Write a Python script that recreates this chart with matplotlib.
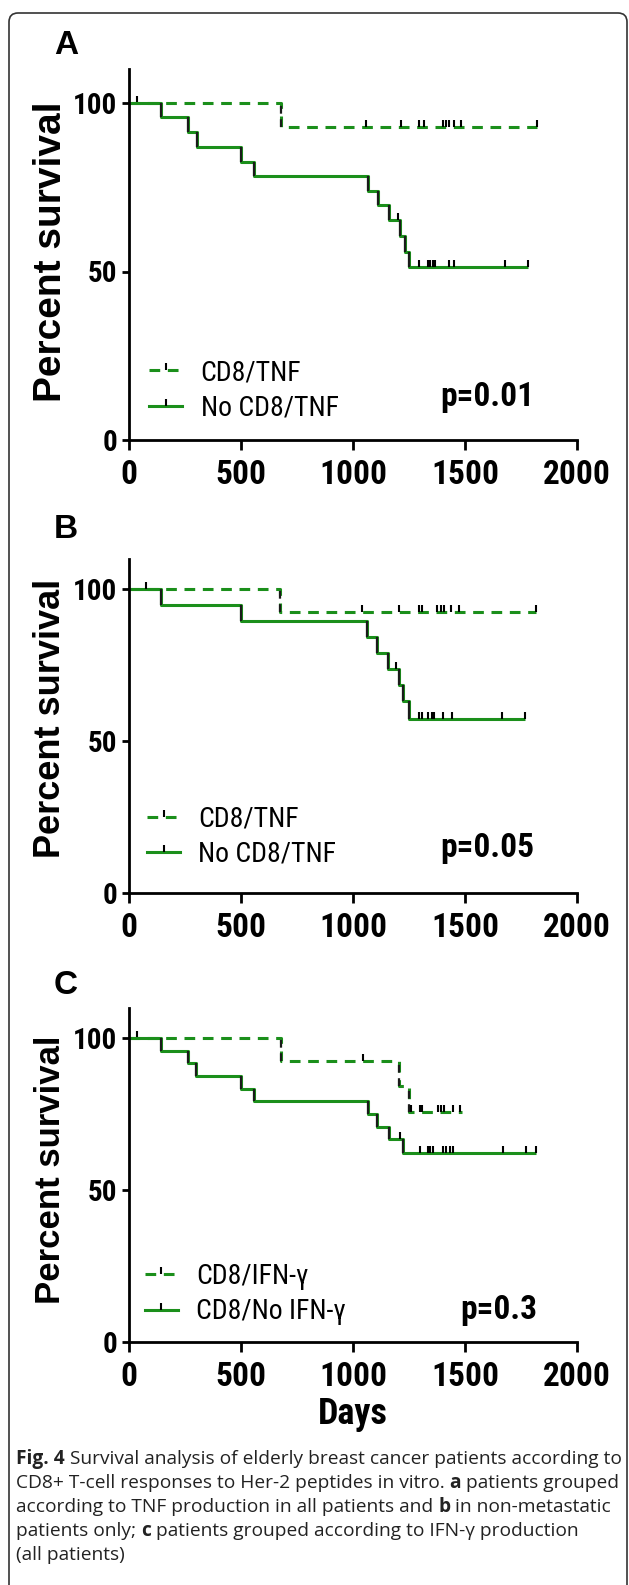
import numpy as np
import matplotlib.pyplot as plt
from matplotlib import font_manager as fm
from matplotlib.lines import Line2D
from matplotlib.patches import FancyBboxPatch
from matplotlib.transforms import IdentityTransform


def have(name):
    try:
        fm.findfont(fm.FontProperties(family=name), fallback_to_default=False)
        return True
    except ValueError:
        return False


# narrow bold face for ticks/legend; fall back to Arial-like at a smaller size
NARROW, NK = 'Liberation Sans', 0.86
for name in ['Liberation Sans Narrow', 'Roboto Condensed', 'DejaVu Sans Condensed']:
    if have(name):
        NARROW, NK = name, 1.0
        break

W, H = 629, 1585
GREEN = '#1b8f1b'
NARROWF = [NARROW, 'DejaVu Sans']
ARIAL = ['Liberation Sans', 'DejaVu Sans']
CAPF = ['Open Sans', 'DejaVu Sans']
DASH = (0, (3.5, 2.5))
TICK = [(0, 0), (0, 1)]  # censor mark, drawn upward from the curve

day_ticks = [0, 500, 1000, 1500, 2000]
surv_ticks = [0, 50, 100]

# panel A: TNF, all patients
a_pos_drop = [680]
a_pos_surv = [92.9]
a_pos_end = 1820
a_pos_cens = [36, 1060, 1215, 1295, 1315, 1400, 1415, 1430, 1450, 1480, 1820]
a_neg_drop = [143, 265, 303, 500, 558, 1068, 1110, 1160, 1212, 1231, 1251]
a_neg_surv = [95.7, 91.3, 87.0, 82.6, 78.3, 73.9, 69.6, 65.2, 60.5, 55.9, 51.2]
a_neg_end = 1780
a_neg_cens = [1200, 1295, 1335, 1345, 1355, 1365, 1430, 1450, 1680, 1780]

# panel B: TNF, non-metastatic patients
b_pos_drop = [673]
b_pos_surv = [92.3]
b_pos_end = 1815
b_pos_cens = [1040, 1205, 1295, 1309, 1376, 1394, 1406, 1439, 1474, 1815]
b_neg_drop = [142, 500, 1062, 1107, 1155, 1205, 1223, 1250]
b_neg_surv = [94.7, 89.5, 84.2, 78.9, 73.7, 68.4, 63.2, 57.4]
b_neg_end = 1770
b_neg_cens = [75, 1190, 1295, 1310, 1336, 1352, 1363, 1403, 1442, 1663, 1770]

# panel C: IFN-gamma, all patients
c_pos_drop = [678, 1204, 1248]
c_pos_surv = [92.3, 84.2, 75.8]
c_pos_end = 1485
c_pos_cens = [36, 1046, 1258, 1297, 1309, 1378, 1392, 1405, 1446, 1476]
c_neg_drop = [143, 262, 301, 500, 556, 1067, 1108, 1159, 1221]
c_neg_surv = [95.8, 91.7, 87.5, 83.3, 79.2, 75.0, 70.8, 66.7, 62.2]
c_neg_end = 1817
c_neg_cens = [1210, 1297, 1333, 1345, 1356, 1404, 1417, 1435, 1446, 1670, 1772, 1817]

panels = [
    dict(letter='A', top=69.3, bottom=440, ylab_y=252, ylab_size=28, letter_y=45,
         curves=[(a_pos_drop, a_pos_surv, a_pos_end, a_pos_cens, DASH),
                 (a_neg_drop, a_neg_surv, a_neg_end, a_neg_cens, '-')],
         labels=['CD8/TNF', 'No CD8/TNF'], pval='p=0.01',
         leg=(0.045, 0.05), pxy=(0.80, 0.116)),
    dict(letter='B', top=558.6, bottom=893, ylab_y=718, ylab_size=26, letter_y=530,
         curves=[(b_pos_drop, b_pos_surv, b_pos_end, b_pos_cens, DASH),
                 (b_neg_drop, b_neg_surv, b_neg_end, b_neg_cens, '-')],
         labels=['CD8/TNF', 'No CD8/TNF'], pval='p=0.05',
         leg=(0.04, 0.075), pxy=(0.80, 0.135)),
    dict(letter='C', top=1007.6, bottom=1342, ylab_y=1170, ylab_size=25, letter_y=985,
         curves=[(c_pos_drop, c_pos_surv, c_pos_end, c_pos_cens, DASH),
                 (c_neg_drop, c_neg_surv, c_neg_end, c_neg_cens, '-')],
         labels=['CD8/IFN-γ', 'CD8/No IFN-γ'], pval='p=0.3',
         leg=(0.035, 0.05), pxy=(0.826, 0.096)),
]


def draw_km(ax, drops, surv, end, cens, ls):
    x = [0] + drops + [end]
    y = [100] + surv + [surv[-1]]
    ax.step(x, y, where='post', color=GREEN, lw=2.2, ls=ls, solid_capstyle='butt')
    prev = [100] + surv[:-1]
    ax.vlines(drops, surv, prev, colors='#1a1a1a', lw=1.6, linestyles=ls)
    levels = np.array([100] + surv)[np.searchsorted(drops, cens, side='right')]
    ax.plot(cens, levels, ls='none', marker=TICK, ms=10, mec='k', mfc='k', mew=1.5)


fig = plt.figure(figsize=(W / 100, H / 100), dpi=100)

left, right = 129, 577
for p in panels:
    ax = fig.add_axes([left / W, 1 - p['bottom'] / H, (right - left) / W,
                       (p['bottom'] - p['top']) / H])
    for c in p['curves']:
        draw_km(ax, *c)
    ax.set_xlim(0, 2000)
    ax.set_ylim(0, 110)
    ax.set_xticks(day_ticks)
    ax.set_yticks(surv_ticks)
    for s in ['top', 'right']:
        ax.spines[s].set_visible(False)
    for s in ['left', 'bottom']:
        ax.spines[s].set_linewidth(2)
    ax.tick_params(axis='x', length=7, width=2, pad=7)
    ax.tick_params(axis='y', length=5, width=2, pad=3.5)
    for t in ax.get_xticklabels():
        t.set_fontfamily(NARROWF)
        t.set_fontweight('bold')
        t.set_fontsize(24 * NK)
    for t in ax.get_yticklabels():
        t.set_fontfamily(NARROWF)
        t.set_fontweight('bold')
        t.set_fontsize(21 * NK)

    handles = [Line2D([], [], color=GREEN, lw=2.2, ls=c[4], marker=TICK, ms=10,
                      mec='k', mfc='k', mew=1.5) for c in p['curves']]
    ax.legend(handles, p['labels'], loc='lower left', bbox_to_anchor=p['leg'],
              frameon=False, prop={'family': NARROWF, 'size': 20 * NK},
              handlelength=1.2 / NK, handletextpad=0.65 / NK, labelspacing=0.3,
              borderpad=0, borderaxespad=0, numpoints=1)
    ax.text(p['pxy'][0], p['pxy'][1], p['pval'], transform=ax.transAxes,
            ha='center', va='center', fontsize=24 * NK, fontweight='bold',
            family=NARROWF)

    fig.text(51 / W, 1 - p['ylab_y'] / H, 'Percent survival', rotation=90,
             ha='center', va='center', fontsize=p['ylab_size'],
             fontweight='bold', family=ARIAL)
    fig.text(54 / W, 1 - p['letter_y'] / H, p['letter'], ha='left', va='center',
             fontsize=24, fontweight='bold', family=ARIAL)

fig.text(353 / W, 1 - 1424 / H, 'Days', ha='center', va='baseline',
         fontsize=26 * NK, fontweight='bold', family=NARROWF)

# caption: (text, bold) runs per line
caption = [
    [('Fig. 4', True), (' Survival analysis of elderly breast cancer patients according to', False)],
    [('CD8+ T-cell responses to Her-2 peptides in vitro. ', False), ('a', True),
     (' patients grouped', False)],
    [('according to TNF production in all patients and ', False), ('b', True),
     (' in non-metastatic', False)],
    [('patients only; ', False), ('c', True),
     (' patients grouped according to IFN-γ production', False)],
    [('(all patients)', False)],
]
cap_y = [1459, 1483, 1507, 1531, 1555]

renderer = fig.canvas.get_renderer()


def run_width(txt, bold, size):
    t = fig.text(0, 0, txt, fontsize=size, family=CAPF,
                 fontweight='bold' if bold else 'normal')
    w = t.get_window_extent(renderer).width
    t.remove()
    return w


# fit caption font size so the first line spans the box width
w0 = sum(run_width(t, b, 12) for t, b in caption[0])
cap_size = 12 * 603 / w0
for runs, y in zip(caption, cap_y):
    x = 16
    for txt, bold in runs:
        fig.text(x / W, 1 - y / H, txt, ha='left', va='center', fontsize=cap_size,
                 family=CAPF, fontweight='bold' if bold else 'normal',
                 color='#222222')
        x += run_width(txt, bold, cap_size)

box = FancyBboxPatch((9, -30), 618, H - 13 + 30,
                     boxstyle='round,pad=0,rounding_size=9',
                     transform=IdentityTransform(), fill=False,
                     edgecolor='#333333', lw=1.2)
fig.add_artist(box)

fig.savefig('out.png', dpi=100)
